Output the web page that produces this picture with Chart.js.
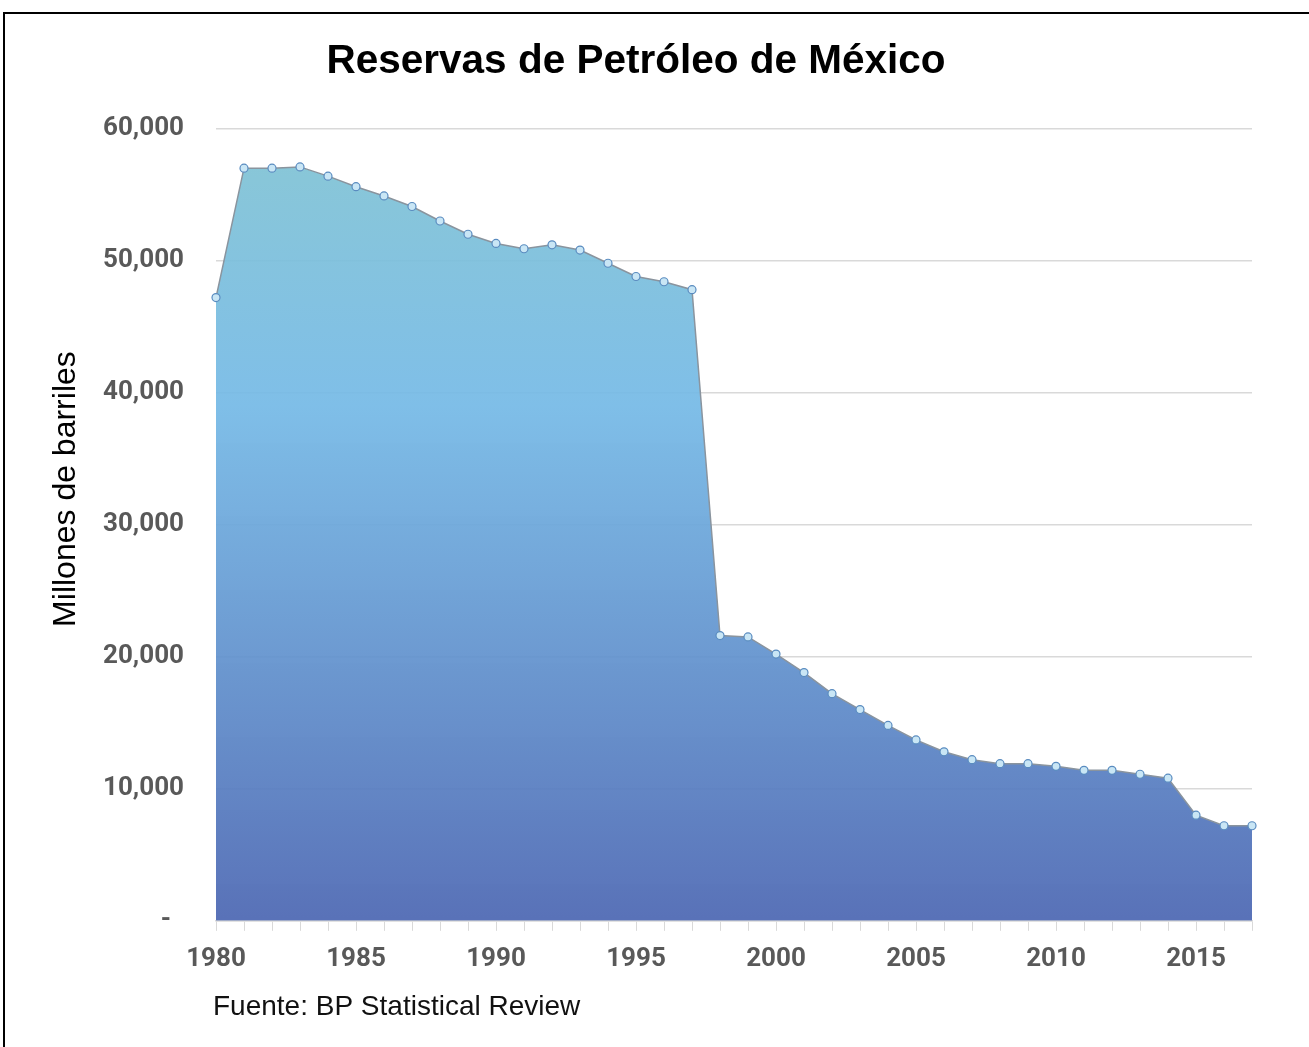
<!DOCTYPE html>
<html lang="es">
<head>
<meta charset="utf-8">
<title>Reservas de Petróleo de México</title>
<script src="https://cdn.jsdelivr.net/npm/chart.js@4.4.1/dist/chart.umd.min.js"></script>
<style>
  html, body { margin: 0; padding: 0; background: #fff; overflow: hidden; }
  body { width: 1309px; height: 1047px; position: relative; }
  #frame {
    position: absolute; left: 3px; top: 12px;
    width: 1320px; height: 1060px;
    border: 2px solid #000; box-sizing: border-box;
  }
  #wrap { position: absolute; left: 0; top: 0; width: 1272px; height: 1047px; }
</style>
</head>
<body>
<div id="frame"></div>
<div id="wrap"><canvas id="reservasChart"></canvas></div>
<script>
// ====== Datos ======
const years = ['1980','1981','1982','1983','1984','1985','1986','1987','1988','1989',
               '1990','1991','1992','1993','1994','1995','1996','1997','1998','1999',
               '2000','2001','2002','2003','2004','2005','2006','2007','2008','2009',
               '2010','2011','2012','2013','2014','2015','2016','2017'];

// millones de barriles
const reserves = [47200, 57000, 57000, 57100, 56400, 55600, 54900, 54100, 53000, 52000,
                  51300, 50900, 51200, 50800, 49800, 48800, 48400, 47800, 21600, 21500,
                  20200, 18800, 17200, 16000, 14800, 13700, 12800, 12200, 11900, 11900,
                  11700, 11400, 11400, 11100, 10800,  8000,  7200,  7200];

const yTicks = [0, 10000, 20000, 30000, 40000, 50000, 60000];
const labeledYears = ['1980','1985','1990','1995','2000','2005','2010','2015'];

const chartTitle = 'Reservas de Petróleo de México';
const yAxisTitle = 'Millones de barriles';
const sourceNote = 'Fuente: BP Statistical Review';

// ====== Estilos ======
const tickFont = { family: 'Roboto', size: 26, weight: 'bold' };
const tickColor = '#595959';
const gridColor = '#d9d9d9';

function areaGradient(context) {
    const chart = context.chart;
    const area = chart.chartArea;
    if (!area) return 'rgba(110,160,215,0.9)';
    const g = chart.ctx.createLinearGradient(0, area.top, 0, area.bottom);
    g.addColorStop(0.00, 'rgba(128,195,210,0.92)');
    g.addColorStop(0.35, 'rgba(116,185,230,0.92)');
    g.addColorStop(1.00, 'rgba(80,106,180,0.95)');
    return g;
}

// título del eje Y y nota de fuente
const textPlugin = {
    id: 'extraText',
    afterDraw(chart) {
        const ctx = chart.ctx;
        const area = chart.chartArea;
        ctx.save();
        ctx.fillStyle = '#000';
        ctx.font = '32px "Liberation Sans", Arial, sans-serif';
        ctx.textAlign = 'center';
        ctx.textBaseline = 'middle';
        ctx.translate(area.left - 150, area.top + (area.bottom - area.top) * 0.455);
        ctx.rotate(-Math.PI / 2);
        ctx.fillText(yAxisTitle, 0, 0);
        ctx.restore();

        ctx.save();
        ctx.font = '28px "Liberation Sans", Arial, sans-serif';
        ctx.fillStyle = '#111';
        ctx.textAlign = 'left';
        ctx.textBaseline = 'middle';
        ctx.fillText(sourceNote, area.left - 3, area.bottom + 86);
        ctx.restore();
    }
};

const ctx = document.getElementById('reservasChart');
new Chart(ctx, {
    type: 'line',
    data: {
        labels: years,
        datasets: [{
            label: 'Reservas',
            data: reserves,
            fill: 'origin',
            backgroundColor: areaGradient,
            borderColor: '#8a949e',
            borderWidth: 1.5,
            tension: 0,
            pointRadius: 4,
            pointBackgroundColor: '#c9e6f5',
            pointBorderColor: '#5a8cc0',
            pointBorderWidth: 1.2
        }]
    },
    options: {
        responsive: true,
        maintainAspectRatio: false,
        animation: false,
        layout: { padding: { left: 20, right: 20, top: 12, bottom: 59 } },
        plugins: {
            legend: { display: false },
            tooltip: { enabled: false },
            title: {
                display: true,
                text: chartTitle,
                color: '#000',
                font: { family: '"Liberation Sans", Arial, sans-serif', size: 40.5, weight: 'bold' },
                padding: { top: 26, bottom: 42 }
            }
        },
        scales: {
            x: {
                offset: false,
                grid: {
                    drawOnChartArea: false,
                    drawTicks: true,
                    tickLength: 10,
                    color: gridColor
                },
                border: { display: true, color: gridColor, width: 1.5 },
                ticks: {
                    autoSkip: false,
                    maxRotation: 0,
                    padding: 13,
                    color: tickColor,
                    font: tickFont,
                    callback: function(value) {
                        const lbl = this.getLabelForValue(value);
                        return labeledYears.includes(lbl) ? lbl : '';
                    }
                }
            },
            y: {
                min: yTicks[0],
                max: yTicks[yTicks.length - 1],
                afterBuildTicks: axis => { axis.ticks = yTicks.map(v => ({ value: v })); },
                afterFit: axis => { axis.width = 196; },
                grid: { color: gridColor, lineWidth: 1.5, drawTicks: false },
                border: { display: false },
                ticks: {
                    padding: 32,
                    color: tickColor,
                    font: tickFont,
                    callback: value => value === 0 ? '-  ' : value.toLocaleString('en-US')
                }
            }
        }
    },
    plugins: [textPlugin]
});
</script>
</body>
</html>
